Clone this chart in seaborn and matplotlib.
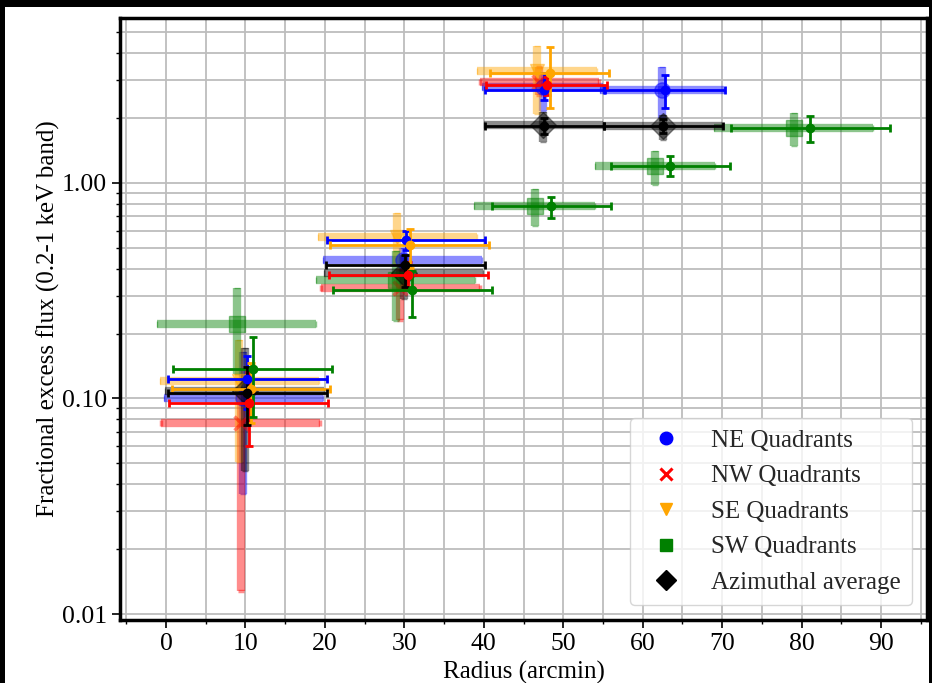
import numpy as np
import matplotlib
matplotlib.use("Agg")
import matplotlib.pyplot as plt
from matplotlib.lines import Line2D
from matplotlib.patches import Rectangle
from matplotlib.ticker import FormatStrFormatter, LogLocator, MultipleLocator, NullFormatter
import seaborn as sns

# ---- NE quadrants ----
ne_r_a = [9.7, 29.8, 47.4, 62.4]
ne_xerr_a = [10, 10, 7.6, 7.8]
ne_y_a = [0.100, 0.44, 2.79, 2.70]
ne_lo_a = [0.036, 0.34, 2.14, 1.99]
ne_hi_a = [0.164, 0.50, 3.22, 3.45]

ne_r_b = [10.2, 30.2, 47.6, 62.8]
ne_xerr_b = [10, 10, 7.5, 7.6]
ne_y_b = [0.123, 0.545, 2.70, 2.70]
ne_lo_b = [0.089, 0.49, 2.42, 2.22]
ne_hi_b = [0.158, 0.595, 3.24, 3.14]

# ---- NW quadrants ----
nw_r_a = [9.4, 29.5, 47.0]
nw_xerr_a = [10, 10, 7.5]
nw_y_a = [0.0766, 0.325, 2.94]
nw_lo_a = [0.0128, 0.232, 2.55]
nw_hi_a = [0.105, 0.40, 3.45]

nw_r_b = [10.4, 30.5, 47.9]
nw_xerr_b = [10, 10, 7.6]
nw_y_b = [0.0955, 0.375, 2.84]
nw_lo_b = [0.060, 0.32, 2.55]
nw_hi_b = [0.132, 0.43, 3.10]

# ---- SE quadrants ----
se_r_a = [9.2, 29.1, 46.7]
se_xerr_a = [10, 10, 7.5]
se_y_a = [0.120, 0.561, 3.31]
se_lo_a = [0.0506, 0.42, 2.09]
se_hi_a = [0.187, 0.724, 4.32]

se_r_b = [10.7, 30.7, 48.3]
se_xerr_b = [10, 10, 7.5]
se_y_b = [0.111, 0.516, 3.22]
se_lo_b = [0.077, 0.404, 2.22]
se_hi_b = [0.146, 0.612, 4.25]

# ---- SW quadrants ----
sw_r_a = [8.9, 28.9, 46.4, 61.5, 79.0]
sw_xerr_a = [10, 10, 7.65, 7.55, 10]
sw_y_a = [0.222, 0.353, 0.777, 1.19, 1.79]
sw_lo_a = [0.13, 0.228, 0.628, 0.972, 1.48]
sw_hi_a = [0.325, 0.48, 0.938, 1.41, 2.10]

sw_r_b = [10.9, 31.0, 48.5, 63.5, 81.1]
sw_xerr_b = [10, 10, 7.5, 7.5, 10]
sw_y_b = [0.137, 0.317, 0.777, 1.20, 1.79]
sw_lo_b = [0.0817, 0.239, 0.687, 1.07, 1.55]
sw_hi_b = [0.193, 0.389, 0.859, 1.33, 2.03]

# ---- azimuthal average ----
az_r_a = [9.9, 29.9, 47.5, 62.5]
az_xerr_a = [10, 10, 7.5, 7.55]
az_y_a = [0.108, 0.38, 1.86, 1.84]
az_lo_a = [0.046, 0.29, 1.55, 1.58]
az_hi_a = [0.172, 0.46, 2.12, 2.06]

az_r_b = [10.2, 30.1, 47.6, 62.6]
az_xerr_b = [10, 10, 7.5, 7.5]
az_y_b = [0.106, 0.417, 1.84, 1.84]
az_lo_b = [0.075, 0.33, 1.68, 1.70]
az_hi_b = [0.14, 0.46, 2.00, 1.98]

labels = ["NE Quadrants", "NW Quadrants", "SE Quadrants", "SW Quadrants", "Azimuthal average"]
colors = ["blue", "red", "orange", "green", "black"]
markers = ["o", "x", "v", "s", "D"]

sets_a = [
    (ne_r_a, ne_xerr_a, ne_y_a, ne_lo_a, ne_hi_a),
    (nw_r_a, nw_xerr_a, nw_y_a, nw_lo_a, nw_hi_a),
    (se_r_a, se_xerr_a, se_y_a, se_lo_a, se_hi_a),
    (sw_r_a, sw_xerr_a, sw_y_a, sw_lo_a, sw_hi_a),
    (az_r_a, az_xerr_a, az_y_a, az_lo_a, az_hi_a),
]
sets_b = [
    (ne_r_b, ne_xerr_b, ne_y_b, ne_lo_b, ne_hi_b),
    (nw_r_b, nw_xerr_b, nw_y_b, nw_lo_b, nw_hi_b),
    (se_r_b, se_xerr_b, se_y_b, se_lo_b, se_hi_b),
    (sw_r_b, sw_xerr_b, sw_y_b, sw_lo_b, sw_hi_b),
    (az_r_b, az_xerr_b, az_y_b, az_lo_b, az_hi_b),
]

sns.set_style("ticks")
plt.rcParams["font.family"] = ["Liberation Serif", "DejaVu Serif"]
plt.rcParams["mathtext.fontset"] = "stix"

fig = plt.figure(figsize=(9.32, 6.83), dpi=100)
fig.patch.set_facecolor("black")
# white page inside the dark frame
page = fig.add_axes([0, 0, 1, 1], zorder=-10)
page.set_axis_off()
page.add_patch(Rectangle((5 / 932, 0), 924 / 932, 676 / 683,
                         transform=page.transAxes, facecolor="white",
                         edgecolor="none"))
ax = fig.add_axes([120 / 932, 1 - 620 / 683, 807 / 932, 602 / 683], zorder=1)
ax.set_facecolor("white")

def yerr_from(y, lo, hi):
    y = np.asarray(y); lo = np.asarray(lo); hi = np.asarray(hi)
    return np.vstack([y - lo, hi - y])

# broad (translucent) measurements
for (r, xe, y, lo, hi), c, m in zip(sets_a, colors, markers):
    ms = 11 if m in ("o", "s") else (13 if m == "D" else 10)
    ax.errorbar(r, y, xerr=xe, yerr=yerr_from(y, lo, hi), fmt=m, color=c,
                ecolor=c, alpha=0.45, elinewidth=6, capsize=2.5, capthick=2,
                ms=ms, mew=2.5 if m == "x" else 1, zorder=3)

# refined (opaque) measurements
for (r, xe, y, lo, hi), c in zip(sets_b, colors):
    ax.errorbar(r, y, xerr=xe, yerr=yerr_from(y, lo, hi), fmt="o", color=c,
                ecolor=c, elinewidth=2, capsize=3, capthick=2, ms=6, zorder=4)

ax.set_yscale("log")
ax.set_xlim(-5.8, 95.8)
ax.set_ylim(0.0094, 5.8)

ax.xaxis.set_major_locator(MultipleLocator(10))
ax.xaxis.set_minor_locator(MultipleLocator(5))
ax.yaxis.set_major_locator(LogLocator(base=10, numticks=10))
ax.yaxis.set_minor_locator(LogLocator(base=10, subs=np.arange(2, 10), numticks=20))
ax.yaxis.set_major_formatter(FormatStrFormatter("%.2f"))
ax.yaxis.set_minor_formatter(NullFormatter())

ax.grid(True, which="major", color="#bdbdbd", linewidth=1.3, zorder=0)
ax.grid(True, which="minor", color="#bdbdbd", linewidth=1.3, zorder=0)
ax.set_axisbelow(True)

for s in ax.spines.values():
    s.set_color("black")
    s.set_linewidth(2.5)
    s.set_visible(True)

ax.tick_params(which="major", direction="out", length=6, width=1.2,
               color="black", labelsize=18.5, labelcolor="black")
ax.tick_params(which="minor", direction="out", length=3, width=1.0, color="black")

ax.set_xlabel("Radius (arcmin)", fontsize=18, color="black", labelpad=4)
ax.set_ylabel("Fractional excess flux (0.2-1 keV band)", fontsize=18,
              color="black", labelpad=1)

handles = []
for c, m, lab in zip(colors, markers, labels):
    ms = 9 if m != "D" else 10
    handles.append(Line2D([], [], linestyle="none", marker=m, color=c,
                          markersize=ms, mew=2.2 if m == "x" else 1, label=lab))
leg = ax.legend(handles=handles, loc="lower right", fontsize=18, frameon=True,
                fancybox=True, framealpha=0.8, edgecolor="#cccccc",
                labelspacing=0.52, handletextpad=0.8, borderpad=0.45,
                borderaxespad=0.6)
leg.set_zorder(10)

fig.savefig("out.png", dpi=100, facecolor=fig.get_facecolor())
